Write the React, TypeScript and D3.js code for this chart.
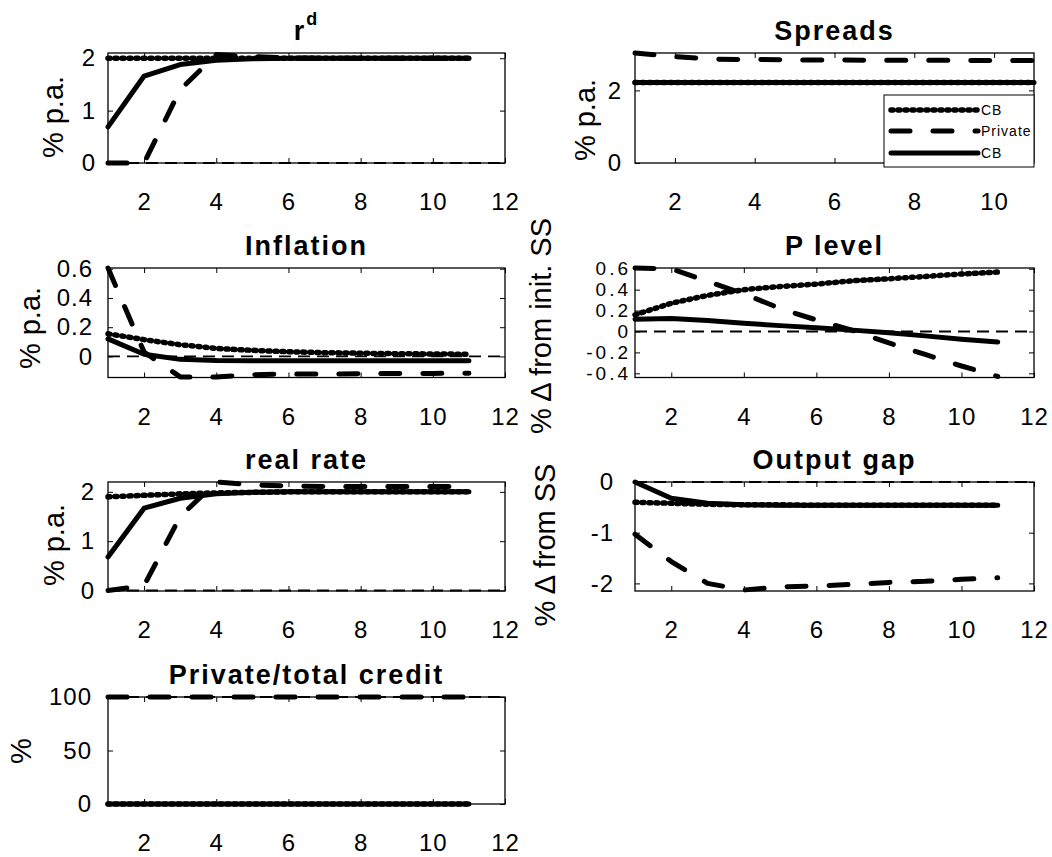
import React, { useEffect, useRef } from "react";
import * as d3 from "d3";

// horizon (quarters) for every series
const periods = [1, 2, 3, 4, 5, 6, 7, 8, 9, 10, 11];

// series order everywhere: CB (dotted), Private (dashed), CB (solid)
const legendLabels = ["CB", "Private", "CB"];

const rdDotted = [2, 2, 2, 2, 2, 2, 2, 2, 2, 2, 2];
const rdDashed = [0, 0, 1.4, 2.07, 2.03, 2.01, 2.0, 2.0, 2.0, 2.0, 2.0];
const rdSolid = [0.69, 1.66, 1.88, 1.96, 1.99, 2.0, 2.0, 2.0, 2.0, 2.0, 2.0];

const spreadsDotted = [2.22, 2.22, 2.22, 2.22, 2.22, 2.22, 2.22, 2.22, 2.22, 2.22, 2.22];
const spreadsDashed = [3.03, 2.93, 2.86, 2.85, 2.84, 2.84, 2.83, 2.83, 2.83, 2.82, 2.82];
const spreadsSolid = [2.22, 2.22, 2.22, 2.22, 2.22, 2.22, 2.22, 2.22, 2.22, 2.22, 2.22];

const inflDotted = [0.155, 0.115, 0.08, 0.055, 0.042, 0.032, 0.026, 0.022, 0.019, 0.017, 0.015];
const inflDashed = [0.605, 0.03, -0.14, -0.14, -0.125, -0.12, -0.12, -0.118, -0.117, -0.116, -0.115];
const inflSolid = [0.12, 0.015, -0.02, -0.028, -0.03, -0.03, -0.03, -0.03, -0.03, -0.03, -0.03];

const plevDotted = [0.16, 0.27, 0.345, 0.4, 0.43, 0.453, 0.485, 0.504, 0.526, 0.55, 0.568];
const plevDashed = [0.607, 0.6, 0.48, 0.36, 0.22, 0.11, 0.01, -0.11, -0.22, -0.33, -0.43];
const plevSolid = [0.118, 0.125, 0.104, 0.078, 0.056, 0.035, 0.013, -0.013, -0.042, -0.074, -0.1];

const realDotted = [1.9, 1.93, 1.96, 1.98, 1.99, 2, 2, 2, 2, 2, 2];
const realDashed = [0, 0.1, 1.5, 2.2, 2.14, 2.12, 2.11, 2.11, 2.11, 2.11, 2.11];
const realSolid = [0.68, 1.67, 1.87, 1.96, 1.99, 2, 2, 2, 2, 2, 2];

const gapDotted = [-0.4, -0.42, -0.44, -0.45, -0.45, -0.46, -0.46, -0.46, -0.46, -0.46, -0.46];
const gapDashed = [-1.03, -1.57, -2.0, -2.13, -2.07, -2.05, -2.02, -1.98, -1.96, -1.92, -1.89];
const gapSolid = [0, -0.32, -0.42, -0.45, -0.46, -0.46, -0.46, -0.46, -0.46, -0.46, -0.46];

const creditDotted = [0, 0, 0, 0, 0, 0, 0, 0, 0, 0, 0];
const creditDashed = [100, 100, 100, 100, 100, 100, 100, 100, 100, 100, 100];
const creditSolid = [0, 0, 0, 0, 0, 0, 0, 0, 0, 0, 0];

const ticksTo12 = [2, 4, 6, 8, 10, 12];
const ticksTo10 = [2, 4, 6, 8, 10];

type Panel = {
  title: string;
  sup?: string;
  col: number;
  row: number;
  xMax: number;
  xTicks: number[];
  yDomain: [number, number];
  yTicks: number[];
  series: number[][];
  refs: number[];
  ylabel: string;
  ylabelX: number;
  ylabelY: number;
  pad: number;
  tickFont?: number;
  legend?: boolean;
};

const panels: Panel[] = [
  { title: "r", sup: "d", col: 0, row: 0, xMax: 12, xTicks: ticksTo12, yDomain: [0, 2.1], yTicks: [0, 1, 2],
    series: [rdDotted, rdDashed, rdSolid], refs: [0], ylabel: "% p.a.", ylabelX: 53, ylabelY: 117, pad: 12 },
  { title: "Spreads", col: 1, row: 0, xMax: 11, xTicks: ticksTo10, yDomain: [0, 3.03], yTicks: [0, 2],
    series: [spreadsDotted, spreadsDashed, spreadsSolid], refs: [], ylabel: "% p.a.", ylabelX: 585, ylabelY: 120, pad: 13, legend: true },
  { title: "Inflation", col: 0, row: 1, xMax: 12, xTicks: ticksTo12, yDomain: [-0.144, 0.605], yTicks: [0, 0.2, 0.4, 0.6],
    series: [inflDotted, inflDashed, inflSolid], refs: [0], ylabel: "% p.a.", ylabelX: 30, ylabelY: 328, pad: 15 },
  { title: "P level", col: 1, row: 1, xMax: 12, xTicks: ticksTo12, yDomain: [-0.44, 0.607], yTicks: [-0.4, -0.2, 0, 0.2, 0.4, 0.6],
    series: [plevDotted, plevDashed, plevSolid], refs: [0], ylabel: "% \u0394 from init. SS", ylabelX: 541, ylabelY: 326, pad: 4, tickFont: 19 },
  { title: "real rate", col: 0, row: 2, xMax: 12, xTicks: ticksTo12, yDomain: [-0.01, 2.2], yTicks: [0, 1, 2],
    series: [realDotted, realDashed, realSolid], refs: [0], ylabel: "% p.a.", ylabelX: 54, ylabelY: 545, pad: 13 },
  { title: "Output gap", col: 1, row: 2, xMax: 12, xTicks: ticksTo12, yDomain: [-2.15, 0], yTicks: [-2, -1, 0],
    series: [gapDotted, gapDashed, gapSolid], refs: [0], ylabel: "% \u0394 from SS", ylabelX: 545, ylabelY: 545, pad: 21 },
  { title: "Private/total credit", col: 0, row: 3, xMax: 12, xTicks: ticksTo12, yDomain: [0, 100], yTicks: [0, 50, 100],
    series: [creditDotted, creditDashed, creditSolid], refs: [100], ylabel: "%", ylabelX: 21, ylabelY: 751, pad: 16 },
];

const colX = [[108, 505], [635, 1034]];
const rowY = [[53, 163], [268, 377.5], [482, 591], [697, 804]];

const lineStyles = [
  { dash: "2 5", width: 5.5 },
  { dash: "19 23", width: 5 },
  { dash: null as string | null, width: 5 },
];

const FONT = "'Liberation Sans', Arial, Helvetica, sans-serif";

export default function App() {
  const svgRef = useRef<SVGSVGElement>(null);

  useEffect(() => {
    const svg = d3.select(svgRef.current);
    svg.selectAll("*").remove();

    panels.forEach((p) => {
      const [x0, x1] = colX[p.col];
      const [y0, y1] = rowY[p.row];
      const x = d3.scaleLinear().domain([1, p.xMax]).range([x0, x1]);
      const y = d3.scaleLinear().domain(p.yDomain).range([y1, y0]);
      const g = svg.append("g");

      // box
      g.append("rect")
        .attr("x", x0).attr("y", y0)
        .attr("width", x1 - x0).attr("height", y1 - y0)
        .attr("fill", "white").attr("stroke", "black").attr("stroke-width", 1.3);

      const styleAxis = (sel: any, size = 24, spacing = 1) => {
        sel.select(".domain").remove();
        sel.selectAll("line").attr("stroke", "black");
        sel.attr("font-family", FONT).attr("font-size", size);
        sel.selectAll("text").attr("fill", "black").attr("letter-spacing", spacing);
      };

      g.append("g").attr("transform", `translate(${x0},0)`)
        .call(d3.axisLeft(y).tickValues(p.yTicks).tickSizeInner(-5).tickSizeOuter(0)
          .tickPadding(p.pad).tickFormat((d: any) => String(d)))
        .call(styleAxis, p.tickFont ?? 24, p.tickFont ? 3 : 1);
      g.append("g").attr("transform", `translate(${x1},0)`)
        .call(d3.axisRight(y).tickValues(p.yTicks).tickSizeInner(-5).tickSizeOuter(0).tickFormat(() => ""))
        .call(styleAxis);
      g.append("g").attr("transform", `translate(0,${y1})`)
        .call(d3.axisBottom(x).tickValues(p.xTicks).tickSizeInner(-5).tickSizeOuter(0)
          .tickPadding(30).tickFormat((d: any) => String(d)))
        .call(styleAxis);
      g.append("g").attr("transform", `translate(0,${y0})`)
        .call(d3.axisTop(x).tickValues(p.xTicks).tickSizeInner(-5).tickSizeOuter(0).tickFormat(() => ""))
        .call(styleAxis);

      // reference lines
      p.refs.forEach((v) => {
        g.append("line")
          .attr("x1", x(1)).attr("x2", x(12))
          .attr("y1", y(v)).attr("y2", y(v))
          .attr("stroke", "black").attr("stroke-width", 1.8)
          .attr("stroke-dasharray", "12 7");
      });

      // series
      p.series.forEach((vals, i) => {
        const st = lineStyles[i];
        const line = d3.line<number>()
          .x((_, j) => x(periods[j]))
          .y((d) => y(d));
        const path = g.append("path")
          .datum(vals)
          .attr("d", line)
          .attr("fill", "none")
          .attr("stroke", "black")
          .attr("stroke-width", st.width)
          .attr("stroke-linecap", "round")
          .attr("stroke-linejoin", "round");
        if (st.dash) path.attr("stroke-dasharray", st.dash);
      });

      // title
      const cx = (x0 + x1) / 2;
      const title = g.append("text")
        .attr("x", cx).attr("y", y0 - 13)
        .attr("text-anchor", "middle")
        .attr("font-family", FONT).attr("font-size", 27).attr("font-weight", "bold")
        .attr("letter-spacing", 2);
      title.append("tspan").text(p.title);
      if (p.sup) {
        title.append("tspan").attr("font-size", 18).attr("dy", -15).text(p.sup);
      }

      // y label
      svg.append("text")
        .attr("transform", `translate(${p.ylabelX},${p.ylabelY}) rotate(-90)`)
        .attr("text-anchor", "middle")
        .attr("dominant-baseline", "central")
        .attr("font-family", FONT).attr("font-size", 29)
        .text(p.ylabel);

      if (p.legend) {
        const lx0 = 884, ly0 = 95, lw = 150, lh = 72;
        const lg = svg.append("g");
        lg.append("rect")
          .attr("x", lx0).attr("y", ly0).attr("width", lw).attr("height", lh)
          .attr("fill", "white").attr("stroke", "black").attr("stroke-width", 1);
        const rowsY = [110, 131, 153];
        legendLabels.forEach((lab, i) => {
          const st = lineStyles[i];
          const l = lg.append("line")
            .attr("x1", 891).attr("x2", 978)
            .attr("y1", rowsY[i]).attr("y2", rowsY[i])
            .attr("stroke", "black").attr("stroke-width", st.width)
            .attr("stroke-linecap", "round");
          if (st.dash) l.attr("stroke-dasharray", st.dash);
          lg.append("text")
            .attr("x", 981).attr("y", rowsY[i])
            .attr("dominant-baseline", "central")
            .attr("font-family", FONT).attr("font-size", 14)
            .attr("letter-spacing", 1)
            .text(lab);
        });
      }
    });
  }, []);

  return (
    <svg
      ref={svgRef}
      width={1052}
      height={857}
      style={{ position: "absolute", left: 0, top: 0, background: "white" }}
    />
  );
}
